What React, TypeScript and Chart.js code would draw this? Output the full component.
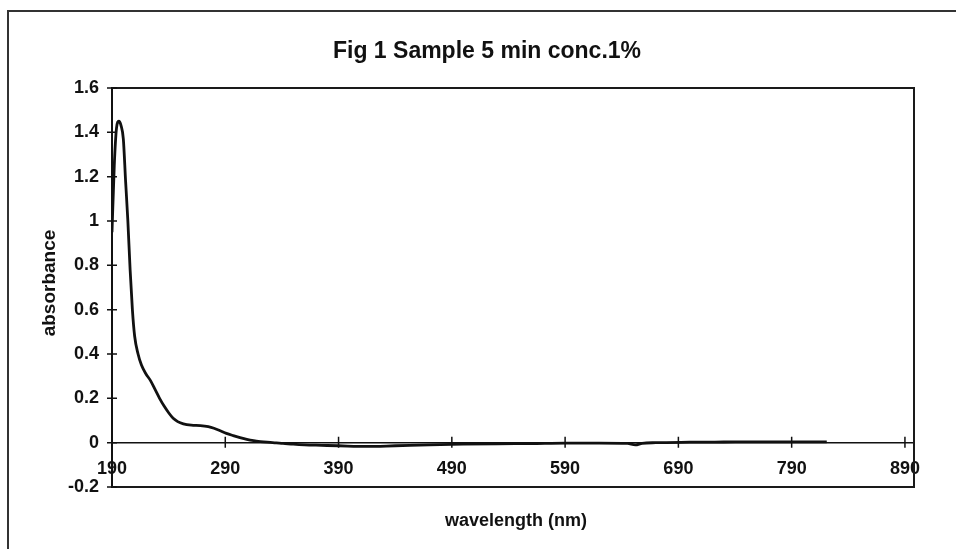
import React, { useEffect, useRef } from 'react';
import { Chart, registerables } from 'chart.js';

Chart.register(...registerables);

const titleText = 'Fig 1 Sample 5 min conc.1%';
const xAxisTitle = 'wavelength (nm)';
const yAxisTitle = 'absorbance';

const wavelengths = [
  190, 192, 194, 196, 198, 200, 202, 204, 206, 208, 210, 213, 216, 220, 224, 228, 232, 236, 240, 244,
  248, 253, 260, 268, 275, 280, 285, 291, 297, 303, 309, 315, 321, 327, 335, 341, 350, 360, 375, 390,
  415, 440, 470, 500, 530, 560, 590, 620, 645, 652, 658, 670, 700, 730, 760, 790, 821,
];
const absorbance = [
  0.95, 1.25, 1.42, 1.45, 1.43, 1.37, 1.18, 1.0, 0.78, 0.6, 0.48, 0.4, 0.35, 0.31, 0.28, 0.24, 0.2, 0.165, 0.135, 0.11,
  0.095, 0.085, 0.079, 0.077, 0.072, 0.065, 0.055, 0.042, 0.032, 0.023, 0.015, 0.009, 0.005, 0.002, -0.001, -0.003, -0.007, -0.01, -0.012, -0.014,
  -0.017, -0.014, -0.01, -0.007, -0.005, -0.004, -0.002, -0.002, -0.003, -0.01, -0.003, 0.0, 0.002, 0.003, 0.004, 0.004, 0.004,
];
const xTickValues = [190, 290, 390, 490, 590, 690, 790, 890];
const yTickValues = [-0.2, 0, 0.2, 0.4, 0.6, 0.8, 1, 1.2, 1.4, 1.6];

const FONT = '"Liberation Sans", Arial, Helvetica, sans-serif';
const INK = '#111';

export default function App() {
  const ref = useRef<HTMLCanvasElement>(null);

  useEffect(() => {
    document.body.style.margin = '0';
    const canvas = ref.current;
    if (!canvas) return;

    const decor = {
      id: 'decor',
      beforeDraw(chart: any) {
        const { ctx, width, height } = chart;
        ctx.save();
        ctx.fillStyle = '#fff';
        ctx.fillRect(0, 0, width, height);
        ctx.strokeStyle = '#333';
        ctx.lineWidth = 2;
        ctx.beginPath();
        ctx.moveTo(8, height);
        ctx.lineTo(8, 11);
        ctx.lineTo(width, 11);
        ctx.stroke();
        ctx.restore();
      },
      afterDraw(chart: any) {
        const { ctx, chartArea } = chart;
        const xs = chart.scales.x;
        const ys = chart.scales.y;
        ctx.save();
        // plot frame
        ctx.strokeStyle = '#1a1a1a';
        ctx.lineWidth = 2;
        ctx.beginPath();
        ctx.moveTo(chartArea.left, chartArea.top);
        ctx.lineTo(chartArea.right, chartArea.top);
        ctx.lineTo(chartArea.right, chartArea.bottom);
        ctx.lineTo(chartArea.left, chartArea.bottom);
        ctx.stroke();
        // crossing ticks
        ctx.lineWidth = 1.5;
        ctx.strokeStyle = INK;
        ctx.beginPath();
        for (const v of yTickValues) {
          const py = ys.getPixelForValue(v);
          ctx.moveTo(chartArea.left - 5, py);
          ctx.lineTo(chartArea.left + 5, py);
        }
        const y0 = ys.getPixelForValue(0);
        for (const v of xTickValues) {
          const px = xs.getPixelForValue(v);
          ctx.moveTo(px, y0 - 6);
          ctx.lineTo(px, y0 + 5);
        }
        ctx.stroke();
        // titles
        ctx.fillStyle = INK;
        ctx.textAlign = 'center';
        ctx.textBaseline = 'alphabetic';
        ctx.font = `bold 23px ${FONT}`;
        ctx.fillText(titleText, 487, 58);
        ctx.font = `bold 18px ${FONT}`;
        ctx.fillText(xAxisTitle, 516, 526);
        ctx.font = `bold 19px ${FONT}`;
        ctx.translate(55, 283);
        ctx.rotate(-Math.PI / 2);
        ctx.fillText(yAxisTitle, 0, 0);
        ctx.restore();
      },
    };

    const tickFont = { family: FONT, size: 18, weight: 'bold' as const };

    const chart = new Chart(canvas, {
      type: 'line',
      data: {
        datasets: [
          {
            data: wavelengths.map((x, i) => ({ x, y: absorbance[i] })),
            borderColor: INK,
            borderWidth: 2.8,
            pointRadius: 0,
            fill: false,
            cubicInterpolationMode: 'monotone',
          },
        ],
      },
      options: {
        animation: false,
        responsive: false,
        layout: { padding: { left: 40, top: 88, right: 42, bottom: 62 } },
        plugins: {
          legend: { display: false },
          tooltip: { enabled: false },
          title: { display: false },
        },
        scales: {
          x: {
            type: 'linear',
            position: { y: 0 } as any,
            min: 190,
            max: 898,
            afterFit(s: any) {
              s.height = 0;
            },
            afterBuildTicks(s: any) {
              s.ticks = xTickValues.map((v) => ({ value: v }));
            },
            grid: { display: false, drawTicks: false },
            border: { display: true, color: INK, width: 1.5 },
            ticks: {
              font: tickFont,
              color: INK,
              padding: 16,
              autoSkip: false,
              maxRotation: 0,
              callback: (v: any) => String(v),
            },
          },
          y: {
            type: 'linear',
            min: -0.2,
            max: 1.6,
            afterFit(s: any) {
              s.width = 72;
            },
            afterBuildTicks(s: any) {
              s.ticks = yTickValues.map((v) => ({ value: v }));
            },
            grid: { display: false, drawTicks: false },
            border: { display: true, color: INK, width: 2 },
            ticks: {
              font: tickFont,
              color: INK,
              padding: 13,
              autoSkip: false,
              callback: (v: any) => String(Number(Number(v).toFixed(1))),
            },
          },
        },
      },
      plugins: [decor],
    } as any);

    return () => chart.destroy();
  }, []);

  return <canvas ref={ref} width={956} height={549} style={{ display: 'block' }} />;
}
